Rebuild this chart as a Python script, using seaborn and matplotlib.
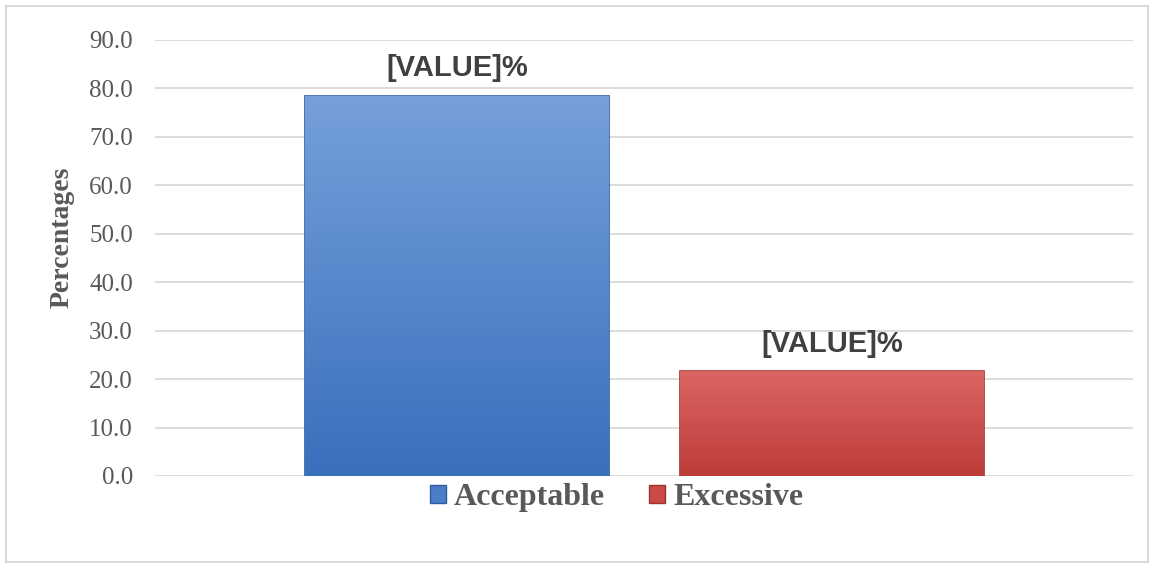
import matplotlib
matplotlib.use("Agg")
import matplotlib.pyplot as plt
import matplotlib.patches as mpatches
from matplotlib.colors import LinearSegmentedColormap
import numpy as np
import pandas as pd
import seaborn as sns

# data
categories = ["Acceptable", "Excessive"]
percentages = [78.4, 21.6]
bar_labels = ["[VALUE]%", "[VALUE]%"]
yticks = [0, 10, 20, 30, 40, 50, 60, 70, 80, 90]

colors = ["#4A7EC8", "#C94A47"]
# (bottom, top) colours of the bar gradients
gradients = [("#3A6FBC", "#75A0DB"), ("#BD3C3A", "#DA6662")]
edges = ["#2F5C9E", "#9E3432"]

df = pd.DataFrame({"group": categories, "pct": percentages})

sns.set_theme(style="white")
plt.rcParams["font.family"] = ["Liberation Serif", "DejaVu Serif"]

W, H = 1154, 568
fig = plt.figure(figsize=(W / 100, H / 100), dpi=100)
ax = fig.add_axes([155 / W, 1 - 476 / H, (1133 - 155) / W, (476 - 40) / H])

sns.barplot(data=df, x="group", y="pct", hue="group", palette=colors,
            width=0.81, saturation=1, legend=False, ax=ax)

# gradient fill clipped to each bar
for p, (c0, c1), ec, lab in zip(ax.patches, gradients, edges, bar_labels):
    x0, w = p.get_x(), p.get_width()
    y0, h = p.get_y(), p.get_height()
    cmap = LinearSegmentedColormap.from_list("g", [c0, c1])
    grad = np.linspace(0, 1, 256).reshape(-1, 1)
    im = ax.imshow(grad, extent=[x0, x0 + w, y0, y0 + h], origin="lower",
                   aspect="auto", cmap=cmap, zorder=p.get_zorder() + 0.1)
    im.set_clip_path(p)
    p.set_edgecolor(ec)
    p.set_linewidth(1.2)
    ax.annotate(lab, (x0 + w / 2, y0 + h), xytext=(0, 20), textcoords="offset points",
                ha="center", va="center", fontsize=21, fontweight="bold",
                family=["Liberation Sans", "DejaVu Sans"], color="#404040")

ax.set_xlim(-0.805, 1.803)
ax.set_ylim(0, 90)
ax.set_yticks(yticks)
ax.set_yticklabels([f"{v:.1f}" for v in yticks])
ax.tick_params(axis="y", labelsize=18, labelcolor="#595959", length=0, pad=16)
ax.set_xticks([])
ax.set_xlabel("")
ax.yaxis.grid(True, color="#D9D9D9", linewidth=1.3)
ax.set_axisbelow(True)
for s in ax.spines.values():
    s.set_visible(False)

ax.set_ylabel("Percentages", fontsize=20, fontweight="bold", color="#595959")
ax.yaxis.set_label_coords(-0.082, 0.548)

handles = [mpatches.Patch(facecolor=c, edgecolor=e, label=n)
           for c, e, n in zip(colors, edges, categories)]
leg = ax.legend(handles=handles, loc="center", bbox_to_anchor=(0.472, -0.05),
                ncol=2, frameon=False, handlelength=0.5, handleheight=0.5,
                handletextpad=0.25, columnspacing=1.4, borderaxespad=0.0,
                prop={"size": 23, "weight": "bold"})
for t in leg.get_texts():
    t.set_color("#595959")

fig.patches.append(mpatches.Rectangle((6 / W, 6 / H), 1 - 12 / W, 1 - 12 / H,
                                      transform=fig.transFigure, fill=False,
                                      edgecolor="#D9D9D9", linewidth=1.5))

fig.savefig("out.png", dpi=100)
